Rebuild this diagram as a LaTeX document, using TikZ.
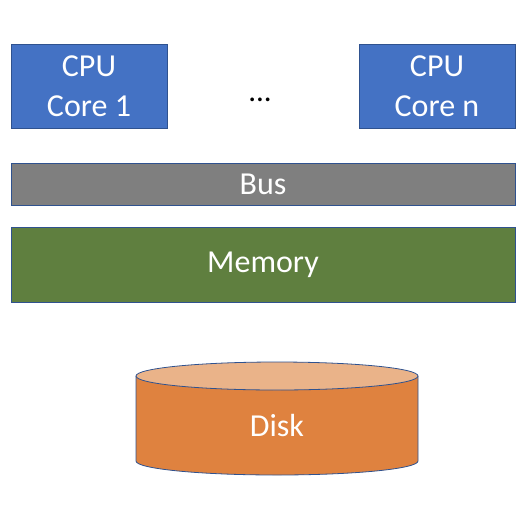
\documentclass[tikz,border=0pt]{standalone}
\usepackage{fontspec}
\setmainfont{Carlito}
\definecolor{cpublue}{HTML}{4472C4}
\definecolor{edgeblue}{HTML}{2F528F}
\definecolor{busgray}{HTML}{7F7F7F}
\definecolor{memgreen}{HTML}{5F7F3F}
\definecolor{diskside}{HTML}{DF823F}
\definecolor{disktop}{HTML}{EAB389}
\begin{document}
\begin{tikzpicture}[x=1pt,y=-1pt,
  blk/.style={draw=edgeblue,line width=0.8pt,text=white,font=\fontsize{32}{40}\selectfont,inner sep=0pt,align=center}]
\useasboundingbox (0,0) rectangle (526,508);
\node[blk,fill=cpublue,minimum width=156pt,minimum height=84pt] (c1) at (89,86) {CPU\\Core 1};
\node[blk,fill=cpublue,minimum width=156pt,minimum height=84pt] (cn) at (437,86) {CPU\\Core n};
\node[font=\fontsize{31}{36}\selectfont,inner sep=0pt] (dots) at (260,100) {...};
\node[blk,fill=busgray,minimum width=504pt,minimum height=42pt] (bus) at (263,184) {Bus};
\node[blk,fill=memgreen,minimum width=504pt,minimum height=75pt] (mem) at (263,264.5) {Memory};
% disk cylinder
\coordinate (dtop) at (277,376);
\coordinate (dbot) at (277,461);
\fill[diskside] (136,376) -- (136,461) arc[start angle=180,end angle=0,x radius=141,y radius=14] -- (418,376) -- cycle;
\draw[edgeblue,line width=0.8pt] (136,376) -- (136,461) arc[start angle=180,end angle=0,x radius=141,y radius=14] -- (418,376);
\draw[edgeblue,line width=0.8pt,fill=disktop] (dtop) ellipse[x radius=141,y radius=14];
\node[text=white,font=\fontsize{32}{40}\selectfont,inner sep=0pt] (disk) at (277,426) {Disk};
\end{tikzpicture}
\end{document}
